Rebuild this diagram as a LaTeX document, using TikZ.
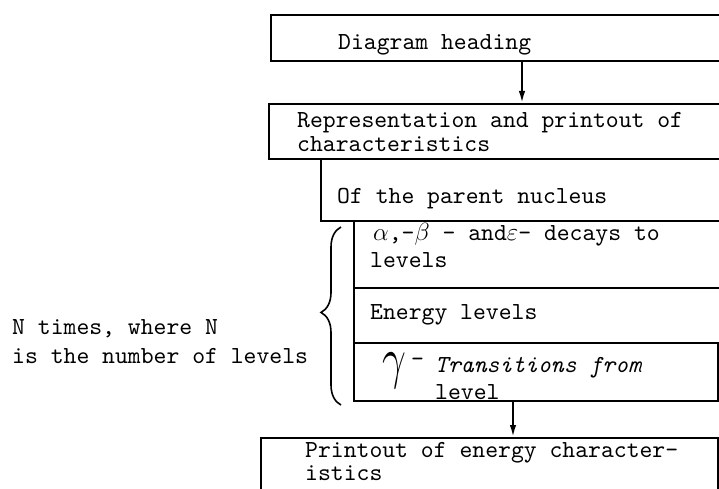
\documentclass[tikz,border=0pt]{standalone}
\usepackage{fontspec}
\usepackage{graphicx}
\setmonofont{lmmono10-regular.otf}[ItalicFont=lmmono10-italic.otf]
\usetikzlibrary{arrows.meta,decorations.pathreplacing}

\begin{document}
\begin{tikzpicture}[x=1pt,y=-1pt,
  box/.style={draw, line width=2pt, rectangle, inner sep=0pt, anchor=north west},
  txt/.style={anchor=base west, inner sep=0pt, font=\ttfamily\fontsize{24.5}{24}\selectfont},
  arr/.style={line width=2pt, -{Latex[length=12pt,width=6.5pt]}}]
\useasboundingbox (0,0) rectangle (719,489);
\clip (0,0) rectangle (719,489);

% blocks of the flow chart (most of them run on past the right edge)
\node[box, minimum width=460pt, minimum height=46pt] (head)   at (270,14)  {};
\node[box, minimum width=462pt, minimum height=55pt] (repr)   at (268,103) {};
\node[box, minimum width=410pt, minimum height=62pt] (parent) at (320,158) {};
\node[box, minimum width=377pt, minimum height=67pt] (decay)  at (353,220) {};
\node[box, minimum width=377pt, minimum height=55pt] (energy) at (353,287) {};
\node[box, minimum width=364pt, minimum height=58pt] (gamma)  at (353,342) {};
\node[box, minimum width=457pt, minimum height=80pt] (print)  at (260,437) {};

% texts inside the blocks
\node[txt] (headA)   at (338,50)  {Diagram heading};
\node[txt] (reprA)   at (297,128) {Representation and printout of};
\node[txt] (reprB)   at (297,152) {characteristics};
\node[txt] (parentA) at (337,203) {Of the parent nucleus};
\node[txt] (decayA)  at (373,240) {$\alpha$,-$\beta$ - and$\varepsilon$- decays to};
\node[txt] (decayB)  at (370,267) {levels};
\node[txt] (energyA) at (370,319) {Energy levels};
\node[txt] (gsym)    at (382,377) {\scalebox{1.7}[2.3]{$\gamma$}};
\node[txt] (gdash)   at (411,366) {-};
\node[txt] (gammaA)  at (435,372) {\itshape Transitions from};
\node[txt] (gammaB)  at (435,399) {level};
\node[txt] (printA)  at (305,457) {Printout of energy character-};
\node[txt] (printB)  at (305,480) {istics};

% note on the repeated part
\node[txt] (noteA) at (12,334) {N times, where N};
\node[txt] (noteB) at (12,363) {is the number of levels};

% brace grouping the repeated blocks
\draw[line width=1.6pt, decorate, decoration={brace, amplitude=20pt, aspect=0.52}]
  (341,405) -- (341,227);

% connectors
\coordinate (c1) at (522,0);
\coordinate (c2) at (513,0);
\draw[arr] (head.south -| c1) -- (repr.north -| c1);
\draw[arr] (gamma.south -| c2) -- (print.north -| c2);
\end{tikzpicture}
\end{document}
